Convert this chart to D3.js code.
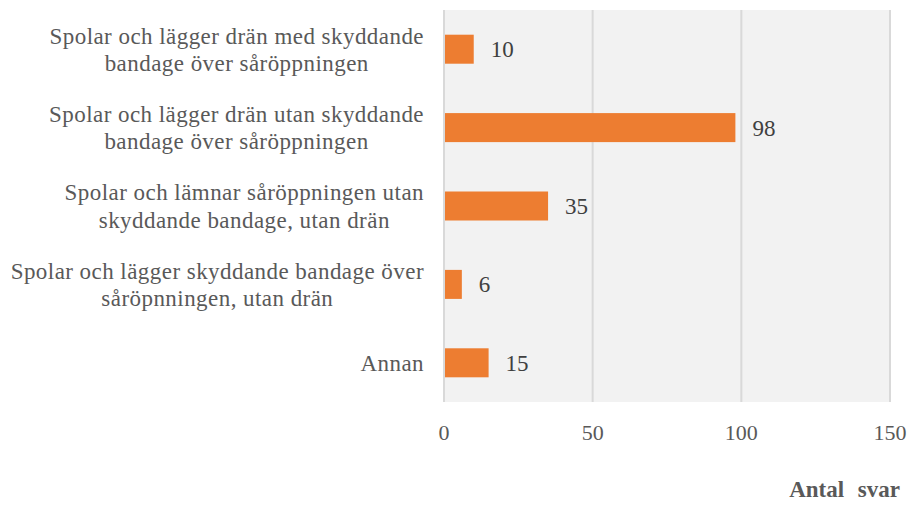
<!DOCTYPE html>
<html><head><meta charset="utf-8">
<script src="https://cdn.jsdelivr.net/npm/d3@7"></script>
<style>body{margin:0;background:#fff}</style>
</head><body>
<svg id="c" width="912" height="508"></svg>
<script>
const categories = [
  ["Spolar och lägger drän med skyddande", "bandage över såröppningen"],
  ["Spolar och lägger drän utan skyddande", "bandage över såröppningen"],
  ["Spolar och lämnar såröppningen utan", "skyddande bandage, utan drän"],
  ["Spolar och lägger skyddande bandage över", "såröpnningen, utan drän"],
  ["Annan"]
];
const values = [10, 98, 35, 6, 15];
const xTicks = [0, 50, 100, 150];
const axisTitle = "Antal svar";

const svg = d3.select("#c");
const font = "'Liberation Serif','Times New Roman',serif";
const m = {left: 444, right: 890, top: 10, bottom: 402};
const x = d3.scaleLinear().domain([0, 150]).range([m.left, m.right]);
const y = d3.scaleBand().domain(d3.range(categories.length)).range([m.top, m.bottom]).paddingInner(0.63).paddingOuter(0.315);

svg.append("rect").attr("x", m.left).attr("y", m.top).attr("width", m.right - m.left).attr("height", m.bottom - m.top).attr("fill", "#f2f2f2");
svg.append("g").selectAll("line").data(xTicks).join("line")
  .attr("x1", d => x(d)).attr("x2", d => x(d)).attr("y1", m.top).attr("y2", m.bottom)
  .attr("stroke", "#d9d9d9").attr("stroke-width", 2);

svg.append("g").selectAll("rect").data(values).join("rect")
  .attr("x", x(0) + 1).attr("y", (d, i) => y(i)).attr("width", d => x(d) - x(0) - 1).attr("height", y.bandwidth())
  .attr("fill", "#ed7d31");

svg.append("g").selectAll("text").data(values).join("text")
  .attr("x", d => x(d) + 17).attr("y", (d, i) => y(i) + y.bandwidth() / 2).attr("dy", "0.35em")
  .attr("font-family", font).attr("font-size", 23).attr("fill", "#404040").text(d => d);

svg.append("g").selectAll("text").data(xTicks).join("text")
  .attr("x", d => x(d)).attr("y", 432).attr("dy", "0.35em").attr("text-anchor", "middle")
  .attr("font-family", font).attr("font-size", 22).attr("fill", "#595959").text(d => d);

const lab = svg.append("g");
const rightEdge = 424, lh = 27.5;
categories.forEach((lines, i) => {
  const cy = y(i) + y.bandwidth() / 2;
  const t = lab.append("text").attr("font-family", font).attr("font-size", 23).attr("letter-spacing", 0.45).attr("fill", "#595959").attr("text-anchor", "middle");
  const spans = lines.map((l, j) => t.append("tspan").text(l));
  const maxW = d3.max(spans, s => s.node().getComputedTextLength());
  const cx = rightEdge - maxW / 2;
  spans.forEach((s, j) => s.attr("x", cx).attr("y", cy + (j - (lines.length - 1) / 2) * lh).attr("dy", "0.35em"));
});

svg.append("text").attr("x", 900).attr("y", 497).attr("text-anchor", "end")
  .attr("font-family", font).attr("font-size", 23).attr("font-weight", "bold").attr("word-spacing", 8).attr("fill", "#595959").text(axisTitle);
</script>
</body></html>
